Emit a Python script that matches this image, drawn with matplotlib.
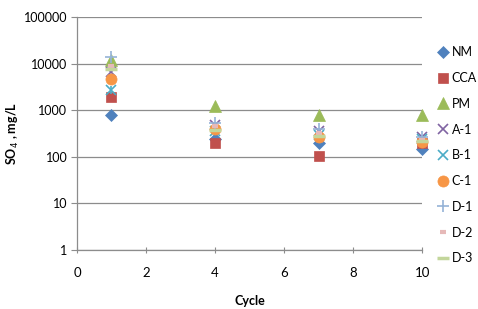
import matplotlib
matplotlib.use("Agg")
from matplotlib import pyplot as plt

plt.rcParams['font.family'] = ['Lato', 'DejaVu Sans']

# data
cycles = [1, 4, 7, 10]
series = ['NM', 'CCA', 'PM', 'A-1', 'B-1', 'C-1', 'D-1', 'D-2', 'D-3']
nm = [790, 240, 200, 150]
cca = [1900, 195, 105, 200]
pm = [12000, 1230, 800, 780]
a1 = [6600, 480, 350, 270]
b1 = [2700, 360, 300, 240]
c1 = [4600, 400, 270, 210]
d1 = [14000, 520, 400, 260]
d2 = [9000, 450, 320, 230]
d3 = [7500, 380, 280, 220]
values = [nm, cca, pm, a1, b1, c1, d1, d2, d3]

# marker, colour, size, edge width
styles = [
    ('D', '#4F81BD', 6.5, 0.5),
    ('s', '#C0504D', 7, 0.5),
    ('^', '#9BBB59', 8, 0.5),
    ('x', '#8064A2', 7, 1.2),
    ('x', '#4BACC6', 7, 1.2),
    ('o', '#F79646', 8, 0.5),
    ('+', '#95B3D7', 8, 1.2),
    ('_', '#E6B9B8', 5, 3.0),
    ('_', '#C3D69B', 8, 2.5),
]

fig = plt.figure(figsize=(4.78, 3.09), dpi=100)
ax = fig.add_axes([0.161, 0.191, 0.722, 0.754])

for name, vals, (m, c, ms, mew) in zip(series, values, styles):
    if m in ('x', '+', '_'):
        ax.plot(cycles, vals, linestyle='none', marker=m, color=c, clip_on=False,
                markersize=ms, markeredgewidth=mew, label=name)
    else:
        ax.plot(cycles, vals, linestyle='none', marker=m, color=c, clip_on=False,
                markeredgecolor=c, markersize=ms, markeredgewidth=mew, label=name)
    if name == 'B-1':
        # asterisk: add the vertical stroke
        ax.plot(cycles, vals, linestyle='none', marker='|', color=c, clip_on=False,
                markersize=ms * 0.8, markeredgewidth=mew)

ax.set_yscale('log')
ax.set_ylim(1, 100000)
ax.set_xlim(0, 10)
ax.set_xticks([0, 2, 4, 6, 8, 10])
ax.set_yticks([1, 10, 100, 1000, 10000, 100000])
ax.set_yticklabels(['1', '10', '100', '1000', '10000', '100000'])
ax.minorticks_off()
ax.yaxis.grid(True, color='#8C8C8C', linewidth=0.9)
ax.set_axisbelow(True)

for s in ['top', 'right']:
    ax.spines[s].set_visible(False)
for s in ['left', 'bottom']:
    ax.spines[s].set_color('#8C8C8C')
    ax.spines[s].set_linewidth(0.9)

ax.tick_params(axis='y', direction='out', length=4, color='#8C8C8C', labelsize=9, pad=3)
ax.tick_params(axis='x', direction='inout', length=5, color='#8C8C8C', labelsize=9.5, pad=10)

ax.set_xlabel('Cycle', fontsize=9, fontweight='bold', labelpad=11)
ax.set_ylabel('SO$_4$ , mg/L', fontsize=9, fontweight='bold')
ax.yaxis.set_label_coords(-0.163, 0.5)

ax.legend(loc='upper left', bbox_to_anchor=(0.915, 0.85), bbox_transform=fig.transFigure,
          frameon=False, fontsize=9, handlelength=0.9, handletextpad=0.25,
          labelspacing=1.1, borderaxespad=0, borderpad=0)

fig.savefig('out.png', dpi=100)
